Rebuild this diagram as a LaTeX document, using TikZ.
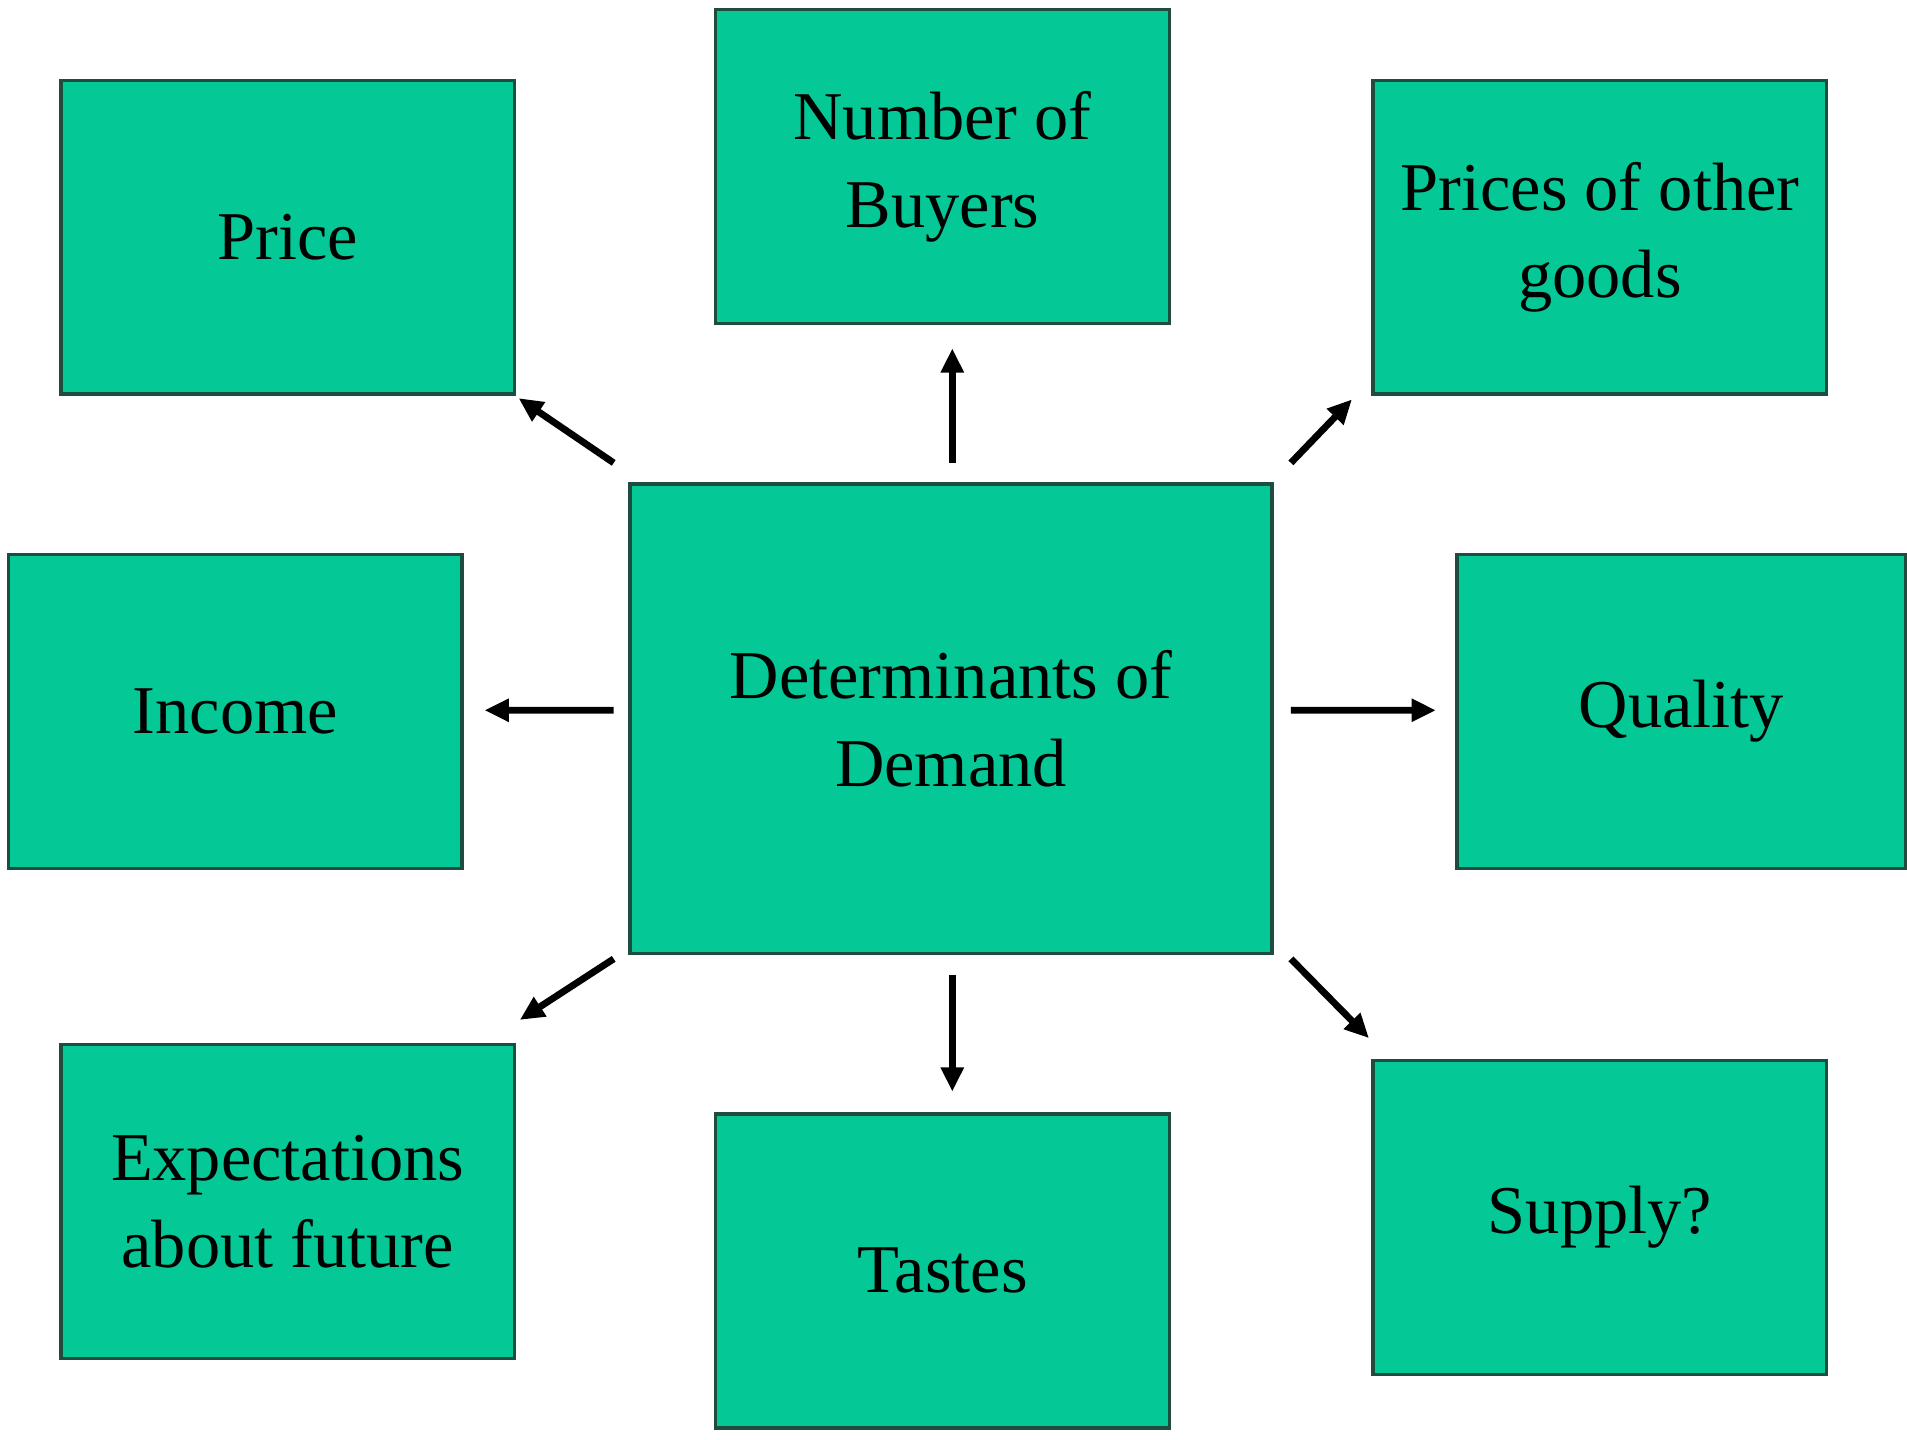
\documentclass[tikz,border=0pt]{standalone}
\usepackage{fontspec}
\setmainfont{Liberation Serif}
\usetikzlibrary{arrows.meta}
\definecolor{demandGreen}{HTML}{05C897}
\definecolor{boxEdge}{HTML}{1E4D3F}

\begin{document}
\begin{tikzpicture}[font=\fontsize{16}{20.5}\selectfont,
    factor/.style={draw=boxEdge, line width=0.8pt, fill=demandGreen,
          minimum width=3.73cm, minimum height=2.58cm, align=center, inner sep=0pt},
    arr/.style={line width=1.6pt, -{Triangle[length=0.2cm, width=0.18cm]}}]
    \useasboundingbox (0,0) rectangle (15.68,-11.84);
    \node[factor, minimum width=5.28cm, minimum height=3.86cm] (center) at (7.82,-5.91) {Determinants of\\Demand};
    \node[factor] (price) at (2.365,-1.95) {Price};
    \node[factor] (buyers) at (7.75,-1.37) {Number of\\Buyers};
    \node[factor] (others) at (13.155,-1.95) {Prices of other\\goods};
    \node[factor] (income) at (1.935,-5.85) {Income};
    \node[factor, minimum width=3.69cm] (quality) at (13.825,-5.85) {Quality};
    \node[factor] (expect) at (2.365,-9.88) {Expectations\\about future};
    \node[factor] (tastes) at (7.75,-10.45) {Tastes};
    \node[factor] (supply) at (13.155,-10.01) {Supply?};

    \draw[arr] ([shift={(-0.12,0.16)}]center.north west) -- ([shift={(0.02,-0.02)}]price.south east);
    \draw[arr] ([shift={(0.01,0.16)}]center.north) -- ([shift={(0.08,-0.19)}]buyers.south);
    \draw[arr] ([shift={(0.14,0.16)}]center.north east) -- ([shift={(-0.16,-0.03)}]others.south west);
    \draw[arr] ([shift={(-0.12,0.07)}]center.west) -- ([shift={(0.17,0.01)}]income.east);
    \draw[arr] ([shift={(0.14,0.07)}]center.east) -- ([shift={(-0.16,0.01)}]quality.west);
    \draw[arr] ([shift={(-0.12,-0.03)}]center.south west) -- ([shift={(0.03,0.19)}]expect.north east);
    \draw[arr] ([shift={(0.01,-0.16)}]center.south) -- ([shift={(0.08,0.17)}]tastes.north);
    \draw[arr] ([shift={(0.14,-0.03)}]center.south east) -- ([shift={(-0.02,0.17)}]supply.north west);
  \end{tikzpicture}
\end{document}
